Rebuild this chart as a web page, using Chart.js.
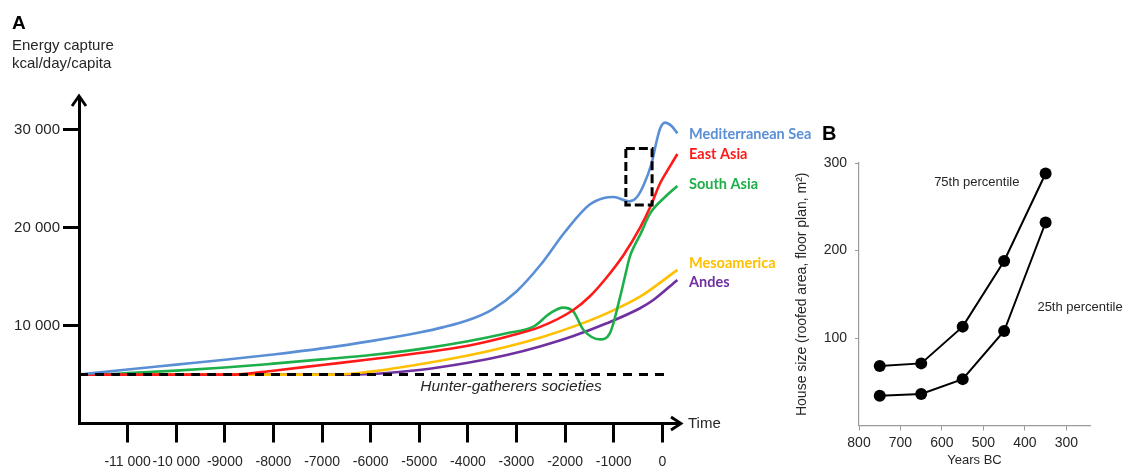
<!DOCTYPE html>
<html>
<head>
<meta charset="utf-8">
<script src="https://cdn.jsdelivr.net/npm/chart.js@4.4.1/dist/chart.umd.min.js"></script>
<style>
  html, body { margin: 0; padding: 0; background: #ffffff; }
  #wrap { position: relative; width: 1125px; height: 471px; overflow: hidden; background: #ffffff; }
  #wrap canvas { position: absolute; left: 0; top: 0; }
</style>
</head>
<body>
<div id="wrap">
  <canvas id="energy" width="1125" height="471"></canvas>
  <canvas id="house" width="1125" height="471"></canvas>
</div>
<script>
// ---------- Panel A: energy capture (kcal/day/capita) over time ----------
const seriesNames = ['Mediterranean Sea', 'East Asia', 'South Asia', 'Mesoamerica', 'Andes'];

const medYears   = [-12000, -11000, -10000, -9000, -8000, -7000, -6000, -5000, -4500, -4000, -3500, -3000, -2500, -2000, -1500, -1200, -1000, -680, -530, -390, -220, -115, -45, 55, 190, 310];
const medEnergy  = [5000, 5520, 6020, 6520, 7060, 7680, 8420, 9300, 9850, 10550, 11650, 13500, 16250, 19600, 22350, 23050, 23150, 22700, 23100, 24300, 26600, 28900, 30150, 30750, 30400, 29650];

const eastYears  = [-12000, -8800, -8000, -7000, -6000, -5000, -4000, -3200, -2500, -1830, -1500, -1150, -800, -460, -250, -50, 160, 310];
const eastEnergy = [5000, 5000, 5400, 5980, 6560, 7200, 7950, 8870, 9900, 11600, 12950, 14900, 17200, 20000, 22100, 24500, 26300, 27550];

const southYears  = [-12000, -11400, -11000, -10000, -9000, -8000, -7000, -6000, -5000, -4000, -3200, -2650, -2310, -2040, -1830, -1620, -1280, -1080, -870, -760, -665, -560, -460, -253, 56, 310];
const southEnergy = [5000, 5050, 5150, 5400, 5720, 6120, 6550, 7000, 7600, 8400, 9220, 9900, 11260, 11840, 11430, 9560, 8600, 9220, 12900, 15200, 17100, 18300, 19250, 21450, 23150, 24280];

const mesoYears  = [-12000, -6700, -6000, -5300, -4000, -3200, -2500, -1830, -1144, -459, 310];
const mesoEnergy = [5000, 5000, 5300, 5800, 6950, 7850, 8800, 9900, 11260, 12960, 15700];

const andesYears  = [-12000, -6400, -5000, -4000, -3200, -2500, -1830, -1144, -459, -185, 310];
const andesEnergy = [5000, 5000, 5470, 6200, 7000, 7900, 8940, 10240, 11780, 12620, 14670];

// Hunter-gatherer baseline
const huntYears  = [-12000, 117];
const huntEnergy = [5000, 5000];

// Highlighted window (dashed box)
const boxYears  = [-750, -210];
const boxEnergy = [22330, 28100];

// Axis ticks
const yearTicks   = [-11000, -10000, -9000, -8000, -7000, -6000, -5000, -4000, -3000, -2000, -1000, 0];
const energyTicks = [10000, 20000, 30000];

// ---------- Panel B: house size by period ----------
const houseYearsBC = [750, 650, 550, 450, 350];
const house75th    = [68, 71, 113, 188, 288];
const house25th    = [34, 36, 53, 108, 232];
const bcTicks      = [800, 700, 600, 500, 400, 300];
const houseTicks   = [100, 200, 300];

// ---------- styling ----------
const seriesColors = ['#5A8FD6', '#FF1A1A', '#1DAF4A', '#FFC000', '#7030A0'];
const labelNudge   = [1, 0, -2, -7, 2];
const tickFont     = 'Liberation Sans, Arial, sans-serif';
const labelFont    = 'Lato, "Open Sans", sans-serif';
const inkColor     = '#262626';

function fmtEnergy(v) {
  const a = Math.abs(v);
  if (a >= 10000) {
    const s = String(a);
    return (v < 0 ? '-' : '') + s.slice(0, s.length - 3) + ' ' + s.slice(-3);
  }
  return String(v);
}

function toPoints(xs, ys) {
  return xs.map((x, i) => ({ x: x, y: ys[i] }));
}

function curve(label, xs, ys, color) {
  return {
    label: label,
    data: toPoints(xs, ys),
    borderColor: color,
    borderWidth: 2.6,
    pointRadius: 0,
    cubicInterpolationMode: 'monotone',
    fill: false
  };
}

const energyOverlay = {
  id: 'energyOverlay',
  afterDraw(chart) {
    const ctx = chart.ctx;
    const xs = chart.scales.x, ys = chart.scales.y;
    const area = chart.chartArea;
    ctx.save();

    // dashed box
    ctx.strokeStyle = '#000';
    ctx.lineWidth = 3;
    ctx.setLineDash([9, 4]);
    const bx1 = xs.getPixelForValue(boxYears[0]), bx2 = xs.getPixelForValue(boxYears[1]);
    const by1 = ys.getPixelForValue(boxEnergy[1]), by2 = ys.getPixelForValue(boxEnergy[0]);
    ctx.strokeRect(bx1, by1, bx2 - bx1, by2 - by1);
    ctx.setLineDash([]);

    // axis arrowheads
    ctx.lineWidth = 2.8;
    ctx.lineJoin = 'miter';
    ctx.beginPath();
    ctx.moveTo(area.left - 7, area.top + 8);
    ctx.lineTo(area.left, area.top - 2);
    ctx.lineTo(area.left + 7, area.top + 8);
    ctx.stroke();
    ctx.beginPath();
    ctx.moveTo(area.right - 9, area.bottom - 6.5);
    ctx.lineTo(area.right + 1, area.bottom);
    ctx.lineTo(area.right - 9, area.bottom + 6.5);
    ctx.stroke();

    // series labels next to the line ends
    ctx.font = 'bold 14.5px ' + labelFont;
    ctx.textBaseline = 'middle';
    ctx.textAlign = 'left';
    seriesNames.forEach((name, i) => {
      const meta = chart.getDatasetMeta(i + 1);
      const last = meta.data[meta.data.length - 1];
      ctx.fillStyle = seriesColors[i];
      ctx.fillText(name, area.right + 9, last.y + labelNudge[i]);
    });

    // texts
    ctx.fillStyle = '#000';
    ctx.font = 'bold 19px ' + tickFont;
    ctx.textBaseline = 'alphabetic';
    ctx.fillText('A', 12, 28.5);
    ctx.fillStyle = inkColor;
    ctx.font = '15px ' + tickFont;
    ctx.fillText('Energy capture', 12, 50);
    ctx.fillText('kcal/day/capita', 12, 68);
    ctx.textBaseline = 'middle';
    ctx.fillText('Time', area.right + 8, area.bottom);

    ctx.font = 'italic 15.5px ' + tickFont;
    ctx.textAlign = 'center';
    ctx.fillText('Hunter-gatherers societies', 511, 387);
    ctx.restore();
  }
};

new Chart(document.getElementById('energy'), {
  type: 'line',
  data: {
    datasets: [
      {
        label: 'Hunter-gatherers societies',
        data: toPoints(huntYears, huntEnergy),
        borderColor: '#000',
        borderWidth: 3,
        borderDash: [9, 7],
        pointRadius: 0,
        fill: false
      },
      curve(seriesNames[0], medYears, medEnergy, seriesColors[0]),
      curve(seriesNames[1], eastYears, eastEnergy, seriesColors[1]),
      curve(seriesNames[2], southYears, southEnergy, seriesColors[2]),
      curve(seriesNames[3], mesoYears, mesoEnergy, seriesColors[3]),
      curve(seriesNames[4], andesYears, andesEnergy, seriesColors[4])
    ]
  },
  options: {
    responsive: false,
    animation: false,
    devicePixelRatio: 1,
    layout: { padding: { left: 0, top: 98, right: 445, bottom: 0 } },
    plugins: { legend: { display: false }, tooltip: { enabled: false } },
    scales: {
      x: {
        type: 'linear',
        min: -12000,
        max: 364,
        afterBuildTicks: s => { s.ticks = yearTicks.map(v => ({ value: v })); },
        afterFit: s => { s.height = 47.5; },
        grid: { drawOnChartArea: false, drawTicks: true, tickLength: 19, tickWidth: 3, tickColor: '#000' },
        border: { display: true, color: '#000', width: 3 },
        ticks: {
          color: inkColor,
          font: { family: tickFont, size: 14 },
          padding: 11,
          maxRotation: 0,
          autoSkip: false,
          callback: v => fmtEnergy(v)
        }
      },
      y: {
        type: 'linear',
        min: 0,
        max: 33270,
        afterBuildTicks: s => { s.ticks = energyTicks.map(v => ({ value: v })); },
        afterFit: s => { s.width = 79; },
        grid: { drawOnChartArea: false, drawTicks: true, tickLength: 16, tickWidth: 3, tickColor: '#000' },
        border: { display: true, color: '#000', width: 3 },
        ticks: {
          color: inkColor,
          font: { family: tickFont, size: 15 },
          padding: 3,
          callback: v => fmtEnergy(v)
        }
      }
    }
  },
  plugins: [energyOverlay]
});

// ---------- Panel B chart ----------
const houseOverlay = {
  id: 'houseOverlay',
  afterDraw(chart) {
    const ctx = chart.ctx;
    const xs = chart.scales.x, ys = chart.scales.y;
    ctx.save();
    ctx.fillStyle = '#000';
    ctx.font = 'bold 20px ' + tickFont;
    ctx.textAlign = 'left';
    ctx.textBaseline = 'alphabetic';
    ctx.fillText('B', 822, 139.5);

    ctx.fillStyle = inkColor;
    ctx.font = '13px ' + tickFont;
    ctx.textAlign = 'center';
    ctx.textBaseline = 'middle';
    ctx.fillText('75th percentile', xs.getPixelForValue(516), ys.getPixelForValue(278));
    ctx.fillText('25th percentile', xs.getPixelForValue(267), ys.getPixelForValue(135));
    ctx.restore();
  }
};

function houseSeries(label, ys) {
  return {
    label: label,
    data: toPoints(houseYearsBC, ys),
    borderColor: '#000',
    backgroundColor: '#000',
    borderWidth: 2,
    pointRadius: 6,
    pointBackgroundColor: '#000',
    pointBorderWidth: 0,
    tension: 0,
    fill: false
  };
}

new Chart(document.getElementById('house'), {
  type: 'line',
  data: {
    datasets: [
      houseSeries('75th percentile', house75th),
      houseSeries('25th percentile', house25th)
    ]
  },
  options: {
    responsive: false,
    animation: false,
    devicePixelRatio: 1,
    layout: { padding: { left: 790, top: 163, right: 35, bottom: 0 } },
    plugins: { legend: { display: false }, tooltip: { enabled: false } },
    scales: {
      x: {
        type: 'linear',
        reverse: true,
        min: 243,
        max: 800,
        afterBuildTicks: s => { s.ticks = bcTicks.map(v => ({ value: v })); },
        afterFit: s => { s.height = 45.5; },
        grid: { drawOnChartArea: false, drawTicks: true, tickLength: 5, tickWidth: 1, tickColor: '#9a9a9a' },
        border: { display: true, color: '#9a9a9a', width: 1.2 },
        ticks: {
          color: inkColor,
          font: { family: tickFont, size: 14 },
          padding: 4,
          maxRotation: 0,
          autoSkip: false
        },
        title: {
          display: true,
          text: 'Years BC',
          color: inkColor,
          font: { family: tickFont, size: 13, lineHeight: 1.2 },
          padding: { top: 0, bottom: 3 }
        }
      },
      y: {
        type: 'linear',
        min: 0,
        max: 300,
        afterBuildTicks: s => { s.ticks = houseTicks.map(v => ({ value: v })); },
        afterFit: s => { s.width = 69; },
        grid: { drawOnChartArea: false, drawTicks: true, tickLength: 4, tickWidth: 1, tickColor: '#9a9a9a' },
        border: { display: true, color: '#9a9a9a', width: 1.2 },
        ticks: {
          color: inkColor,
          font: { family: tickFont, size: 14 },
          padding: 8
        },
        title: {
          display: true,
          text: 'House size (roofed area, floor plan, m²)',
          color: inkColor,
          font: { family: tickFont, size: 14, lineHeight: 1.2 },
          padding: { top: 4, bottom: 0 }
        }
      }
    }
  },
  plugins: [houseOverlay]
});
</script>
</body>
</html>
